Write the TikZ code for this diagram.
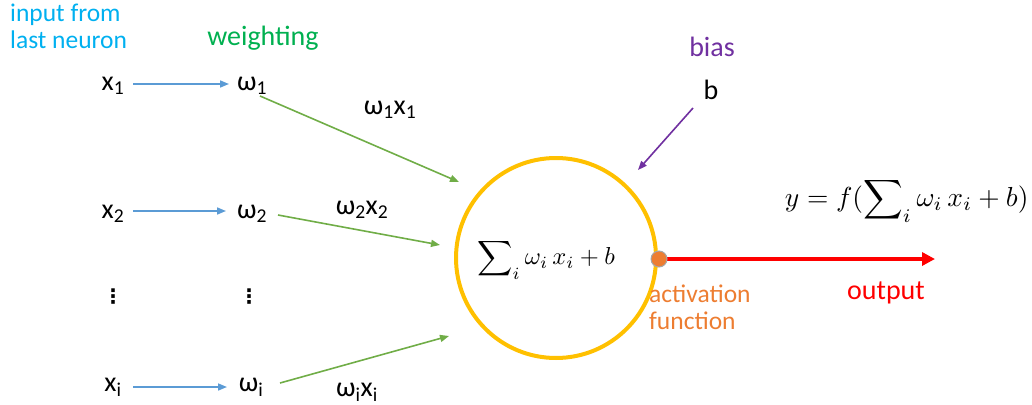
\documentclass[tikz,border=0pt]{standalone}
\usepackage{fontspec}
\setmainfont{Carlito}
\newfontfamily\djv{DejaVu Sans}
\usetikzlibrary{arrows.meta}
\definecolor{incyan}{RGB}{0,176,240}
\definecolor{wgreen}{RGB}{0,176,80}
\definecolor{agreen}{RGB}{112,173,71}
\definecolor{ablue}{RGB}{91,155,213}
\definecolor{cyel}{RGB}{255,192,0}
\definecolor{aorange}{RGB}{237,125,49}
\definecolor{bpurple}{RGB}{112,48,160}
\definecolor{ored}{RGB}{255,0,0}
\tikzset{
  txt/.style={inner sep=1pt,font=\fontsize{28}{32}\selectfont},
  lbl/.style={inner sep=1pt,font=\fontsize{25.5}{27}\selectfont},
  big/.style={inner sep=1pt,font=\fontsize{28}{32}\selectfont},
  vdt/.style={inner sep=1pt,font=\djv\bfseries\fontsize{20}{24}\selectfont},
  barrow/.style={draw=ablue,line width=1.6pt,-{Triangle[length=9pt,width=7pt]}},
  garrow/.style={draw=agreen,line width=1.6pt,-{Triangle[length=9pt,width=7pt]}},
  parrow/.style={draw=bpurple,line width=1.6pt,-{Triangle[length=9pt,width=7pt]}},
}
\begin{document}
\begin{tikzpicture}[x=1pt,y=-1pt]
\useasboundingbox (0,0) rectangle (1032,404);
% header labels
\node[lbl,text=incyan,align=left,anchor=north west] (inp) at (9,3) {input from\\last neuron};
\node[big,text=wgreen] (wt) at (263,38) {weighting};
% inputs
\node[txt] (x1) at (113,86) {x\textsubscript{1}};
\node[txt] (w1) at (252,86) {ω\textsubscript{1}};
\node[txt] (x2) at (113,214) {x\textsubscript{2}};
\node[txt] (w2) at (252,214) {ω\textsubscript{2}};
\node[vdt] (xd) at (113,297) {⋮};
\node[vdt] (wd) at (249,297) {⋮};
\node[txt] (xi) at (113,387) {x\textsubscript{i}};
\node[txt] (wi) at (251,387) {ω\textsubscript{i}};
\coordinate (x1e) at (133,84); \coordinate (w1s) at (229,84);
\coordinate (x2e) at (133,211); \coordinate (w2s) at (226,211);
\coordinate (xie) at (133,387); \coordinate (wis) at (227,387);
\draw[barrow] (x1e) -- (w1s);
\draw[barrow] (x2e) -- (w2s);
\draw[barrow] (xie) -- (wis);
% neuron
\node[circle,draw=cyel,line width=4pt,minimum size=200pt,inner sep=0pt] (neu) at (556,258) {};
\node[inner sep=0pt,scale=2.45] (sum) at (546,259) {$\displaystyle\sum\nolimits_i \omega_i\, x_i + b$};
% weighted arrows
\coordinate (w1o) at (260,96); \coordinate (n1) at (459,182);
\coordinate (w2o) at (278,215); \coordinate (n2) at (440,245);
\coordinate (wio) at (280,383); \coordinate (n3) at (449,336);
\draw[garrow] (w1o) -- (n1);
\draw[garrow] (w2o) -- (n2);
\draw[garrow] (wio) -- (n3);
\node[txt] (l1) at (390,110) {ω\textsubscript{1}x\textsubscript{1}};
\node[txt] (l2) at (362,210) {ω\textsubscript{2}x\textsubscript{2}};
\node[txt] (l3) at (357,392) {ω\textsubscript{i}x\textsubscript{i}};
% bias
\node[big,text=bpurple] (bias) at (712,47) {bias};
\node[txt] (b) at (711,90) {b};
\coordinate (bs) at (693,108); \coordinate (be) at (638,170);
\draw[parrow] (bs) -- (be);
% activation + output
\coordinate (oe) at (935,259);
\draw[draw=ored,line width=4pt,-{Triangle[length=13pt,width=13pt]}] (659,259) -- (oe);
\node[circle,fill=aorange,draw=gray!70,line width=1pt,minimum size=16pt,inner sep=0pt] (act) at (659,259) {};
\node[lbl,text=aorange,align=left,anchor=north west] (actl) at (648,284) {activation\\function};
\node[big,text=ored] (out) at (886,293) {output};
\node[inner sep=0pt,scale=2.75,anchor=east] (yf) at (1029,200) {$y = f(\displaystyle\sum\nolimits_i \omega_i\, x_i + b)$};
\end{tikzpicture}
\end{document}
